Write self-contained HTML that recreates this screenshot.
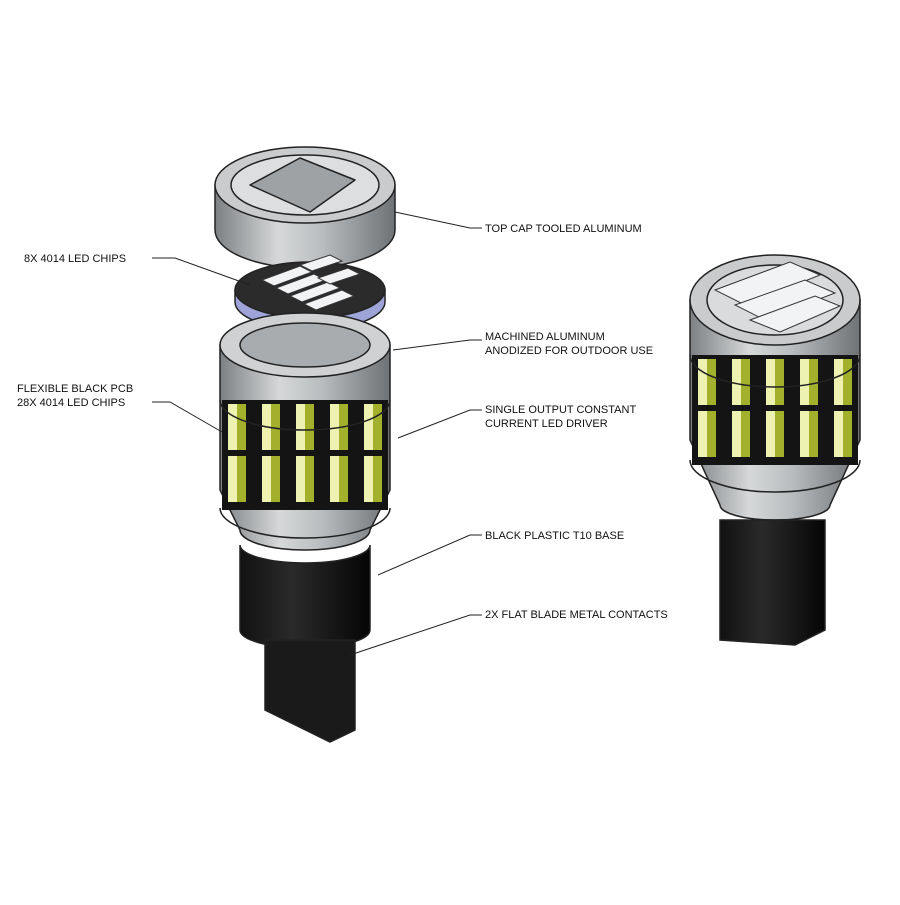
<!DOCTYPE html>
<html><head><style>
body{margin:0;background:#fff}
svg text{font-family:"Liberation Sans",sans-serif;font-size:11px;fill:#111}
</style></head><body>
<svg width="900" height="900" viewBox="0 0 900 900">
<defs>
<linearGradient id="al" x1="0" x2="1"><stop offset="0" stop-color="#7d8083"/><stop offset=".35" stop-color="#d6d8d9"/><stop offset=".6" stop-color="#b9bcbe"/><stop offset="1" stop-color="#6f7275"/></linearGradient>
<linearGradient id="blk" x1="0" x2="1"><stop offset="0" stop-color="#111"/><stop offset=".4" stop-color="#2a2a2a"/><stop offset="1" stop-color="#050505"/></linearGradient>
<pattern id="leds" width="34" height="110" patternUnits="userSpaceOnUse" x="222" y="400">
<rect width="34" height="110" fill="#141414"/>
<rect x="6" y="4" width="9" height="46" fill="#eef2b0"/><rect x="15" y="4" width="9" height="46" fill="#a2b02c"/>
<rect x="6" y="56" width="9" height="46" fill="#eef2b0"/><rect x="15" y="56" width="9" height="46" fill="#a2b02c"/>
</pattern>
<pattern id="leds2" width="34" height="110" patternUnits="userSpaceOnUse" x="692" y="355">
<rect width="34" height="110" fill="#141414"/>
<rect x="6" y="4" width="9" height="46" fill="#eef2b0"/><rect x="15" y="4" width="9" height="46" fill="#a2b02c"/>
<rect x="6" y="56" width="9" height="46" fill="#eef2b0"/><rect x="15" y="56" width="9" height="46" fill="#a2b02c"/>
</pattern>
</defs>
<g stroke="#222" stroke-width="1.5">
<path d="M215 185 L215 230 A90 38 0 0 0 395 230 L395 185 Z" fill="url(#al)"/>
<ellipse cx="305" cy="185" rx="90" ry="38" fill="#c9cbcc"/>
<ellipse cx="305" cy="185" rx="74" ry="30" fill="#dcdedf"/>
<path d="M250 185 L300 158 L355 180 L310 212 Z" fill="#9fa2a4" stroke-linejoin="round"/>
<path d="M235 290 L235 302 A75 28 0 0 0 385 302 L385 290 Z" fill="#9ea4d8"/>
<ellipse cx="310" cy="290" rx="75" ry="28" fill="#2b2b2b"/>
<g fill="#f2f3f5" stroke="#333" stroke-width="1">
<polygon points="262,280 300,266 312,272 274,286"/><polygon points="276,288 314,274 326,280 288,294"/>
<polygon points="290,296 328,282 340,288 302,302"/><polygon points="304,304 342,290 354,296 316,310"/>
<polygon points="300,265 330,255 342,261 312,271"/><polygon points="318,278 348,268 360,274 330,284"/>
</g>
<path d="M220 345 L220 490 L240 530 A65 20 0 0 0 370 530 L390 490 L390 345 Z" fill="url(#al)"/>
<rect x="222" y="400" width="166" height="110" fill="url(#leds)" stroke="none"/>
<path d="M220 400 A85 30 0 0 0 390 400 M220 508 A85 30 0 0 0 390 508" fill="none"/>
<ellipse cx="305" cy="345" rx="85" ry="32" fill="#cfd1d2"/>
<ellipse cx="305" cy="345" rx="65" ry="22" fill="#a9acae"/>
<path d="M240 545 L240 630 A65 18 0 0 0 370 630 L370 545 A65 18 0 0 1 240 545 Z" fill="url(#blk)"/>
<path d="M265 640 L265 710 L330 742 L355 730 L355 640 Z" fill="#1a1a1a"/>
<path d="M690 300 L690 440 L720 505 A55 15 0 0 0 830 505 L860 440 L860 300 Z" fill="url(#al)"/>
<rect x="692" y="355" width="166" height="110" fill="url(#leds2)" stroke="none"/>
<path d="M690 355 A85 32 0 0 0 860 355 M690 460 A85 32 0 0 0 860 460" fill="none"/>
<ellipse cx="775" cy="300" rx="85" ry="45" fill="#c9cbcc"/>
<ellipse cx="775" cy="300" rx="68" ry="35" fill="#d9dbdc"/>
<g fill="#f2f3f5" stroke="#333" stroke-width="1">
<polygon points="715,290 790,262 820,275 745,305"/><polygon points="735,305 805,280 835,293 765,320"/><polygon points="750,320 815,296 840,306 780,332"/>
</g>
<path d="M720 520 L720 640 L795 645 L825 630 L825 520 Z" fill="url(#blk)"/>
</g>
<g stroke="#222" stroke-width="1" fill="none">
<polyline points="395,212 470,228 482,228"/>
<polyline points="152,258 175,258 250,285"/>
<polyline points="393,350 470,340 482,340"/>
<polyline points="152,402 170,402 222,432"/>
<polyline points="398,438 470,410 482,410"/>
<polyline points="378,575 470,535 482,535"/>
<polyline points="350,655 470,615 482,615"/>
</g>
<text x="485" y="232">TOP CAP TOOLED ALUMINUM</text>
<text x="24" y="262">8X 4014 LED CHIPS</text>
<text x="485" y="340">MACHINED ALUMINUM</text>
<text x="485" y="354">ANODIZED FOR OUTDOOR USE</text>
<text x="17" y="392">FLEXIBLE BLACK PCB</text>
<text x="17" y="406">28X 4014 LED CHIPS</text>
<text x="485" y="413">SINGLE OUTPUT CONSTANT</text>
<text x="485" y="427">CURRENT LED DRIVER</text>
<text x="485" y="539">BLACK PLASTIC T10 BASE</text>
<text x="485" y="618">2X FLAT BLADE METAL CONTACTS</text>
</svg>
</body></html>
